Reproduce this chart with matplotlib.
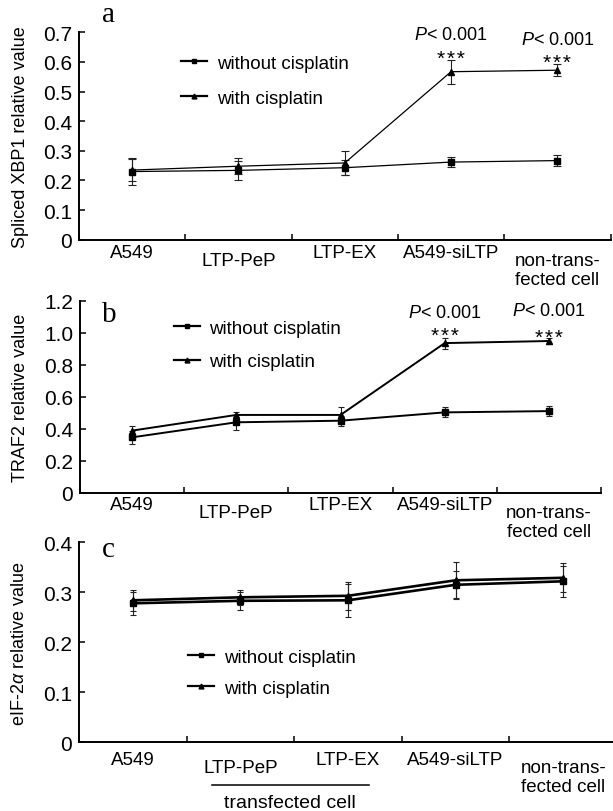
import matplotlib
matplotlib.use("Agg")
import matplotlib.pyplot as plt
import matplotlib.transforms as mtransforms
from matplotlib.lines import Line2D
import numpy as np

plt.rcParams["font.family"] = ["Liberation Sans", "DejaVu Sans"]
plt.rcParams["mathtext.fontset"] = "custom"
plt.rcParams["mathtext.it"] = "Liberation Sans:italic"
plt.rcParams["mathtext.rm"] = "Liberation Sans"

# данные
cats = ["A549", "LTP-PeP", "LTP-EX", "A549-siLTP", "non-trans-\nfected cell"]
labels = ["without cisplatin", "with cisplatin"]

xbp1_without = [0.230, 0.234, 0.243, 0.262, 0.267]
xbp1_without_err = [0.045, 0.033, 0.026, 0.018, 0.018]
xbp1_with = [0.235, 0.248, 0.259, 0.567, 0.572]
xbp1_with_err = [0.037, 0.027, 0.040, 0.040, 0.020]

traf2_without = [0.346, 0.440, 0.450, 0.502, 0.510]
traf2_without_err = [0.042, 0.048, 0.030, 0.031, 0.030]
traf2_with = [0.388, 0.486, 0.486, 0.935, 0.948]
traf2_with_err = [0.031, 0.017, 0.048, 0.035, 0.017]

eif_without = [0.278, 0.283, 0.284, 0.315, 0.322]
eif_without_err = [0.023, 0.018, 0.033, 0.028, 0.031]
eif_with = [0.284, 0.290, 0.293, 0.324, 0.329]
eif_with_err = [0.021, 0.015, 0.028, 0.036, 0.029]

W, H = 613, 812
fig = plt.figure(figsize=(W / 100, H / 100), dpi=100)


def box(l, r, t, b):
    return [l / W, 1 - b / H, (r - l) / W, (b - t) / H]


def panel(rect, without, without_err, with_, with_err, yticks, yticklabels,
          ylabel, lw, ms, cs, leg_xy, leg_sp, lab_off, low_off):
    ax = fig.add_axes(rect)
    x = np.arange(len(cats))
    ax.errorbar(x, without, yerr=without_err, fmt="none", ecolor="#222222",
                elinewidth=0.8, capsize=cs, capthick=0.8, zorder=2)
    ax.errorbar(x, with_, yerr=with_err, fmt="none", ecolor="#222222",
                elinewidth=0.8, capsize=cs, capthick=0.8, zorder=2)
    ax.plot(x, without, color="black", lw=lw, marker="s", ms=ms, zorder=3)
    ax.plot(x, with_, color="black", lw=lw, marker="^", ms=ms, zorder=3)

    ax.set_xlim(-0.5, len(cats) - 0.5)
    ax.set_ylim(yticks[0], yticks[-1])
    ax.set_xticks(np.arange(-0.5, len(cats), 1))
    ax.set_xticklabels([])
    ax.set_yticks(yticks)
    ax.set_yticklabels(yticklabels, fontsize=15)
    ax.tick_params(direction="in", length=4, width=1.1, pad=5)
    for s in ["top", "right"]:
        ax.spines[s].set_visible(False)
    for s in ["left", "bottom"]:
        ax.spines[s].set_linewidth(1.4)

    # подписи категорий
    for i, c in enumerate(cats):
        off = low_off if i in (1, 4) else lab_off
        for j, line in enumerate(c.split("\n")):
            tr = ax.get_xaxis_transform() + mtransforms.ScaledTranslation(
                0, -(off + 19 * j) / 100, fig.dpi_scale_trans)
            ax.text(i, 0, line, transform=tr, ha="center", va="baseline",
                    fontsize=13.5)

    ax.text(leg_xy[2], 0.5, ylabel, transform=ax.transAxes, rotation=90,
            ha="center", va="center", fontsize=13)

    h1 = Line2D([], [], color="black", lw=1.6, marker="s", ms=3.5)
    h2 = Line2D([], [], color="black", lw=1.6, marker="^", ms=3.5)
    ax.legend([h1, h2], labels, loc="upper left",
              bbox_to_anchor=(leg_xy[0], leg_xy[1]), frameon=False,
              fontsize=13.5, handlelength=1.4, handletextpad=0.5,
              labelspacing=leg_sp, borderpad=0, borderaxespad=0)
    return ax


ax_a = panel(box(79, 610.5, 33.3, 240.7), xbp1_without, xbp1_without_err,
             xbp1_with, xbp1_with_err,
             [0, 0.1, 0.2, 0.3, 0.4, 0.5, 0.6, 0.7],
             ["0", "0.1", "0.2", "0.3", "0.4", "0.5", "0.6", "0.7"],
             "Spliced XBP1 relative value", 0.9, 5, 3,
             (0.192, 0.893, -0.111), 0.96, 17.5, 25.5)

ax_b = panel(box(80, 601, 301.7, 493.7), traf2_without, traf2_without_err,
             traf2_with, traf2_with_err,
             [0, 0.2, 0.4, 0.6, 0.8, 1.0, 1.2],
             ["0", "0.2", "0.4", "0.6", "0.8", "1.0", "1.2"],
             "TRAF2 relative value", 1.4, 4.5, 2.5,
             (0.18, 0.90, -0.115), 0.86, 16.5, 24)

ax_c = panel(box(79, 617, 543.3, 743.3), eif_without, eif_without_err,
             eif_with, eif_with_err,
             [0, 0.1, 0.2, 0.3, 0.4],
             ["0", "0.1", "0.2", "0.3", "0.4"],
             r"eIF-2$\alpha$ relative value", 1.9, 5, 2.5,
             (0.2026, 0.468, -0.1097), 0.75, 21.5, 30)

# значимость
stars = "*\u200a*\u200a*"
for x, yp, ys in [(3, 0.676, 0.594), (4, 0.662, 0.580)]:
    ax_a.text(x, yp, r"$P$< 0.001", ha="center", va="baseline", fontsize=13)
    ax_a.text(x, ys, stars, ha="center", va="baseline", fontsize=15)
for x, yp, ys in [(3, 1.098, 0.949), (4, 1.1075, 0.938)]:
    ax_b.text(x, yp, r"$P$< 0.001", ha="center", va="baseline", fontsize=13)
    ax_b.text(x, ys, stars, ha="center", va="baseline", fontsize=15)

# буквы панелей
for ch, xp, yp in [("a", 109, 21.7), ("b", 109, 321.7), ("c", 108, 556.7)]:
    fig.text(xp / W, 1 - yp / H, ch, ha="center", va="baseline",
             fontsize=21, family="Liberation Serif")

# transfected cell
fig.add_artist(Line2D([212 / W, 369 / W], [1 - 785.7 / H] * 2,
                      color="black", lw=1.1))
fig.text(290 / W, 1 - 808 / H, "transfected cell", ha="center",
         va="baseline", fontsize=14)

fig.savefig("out.png", dpi=100)
